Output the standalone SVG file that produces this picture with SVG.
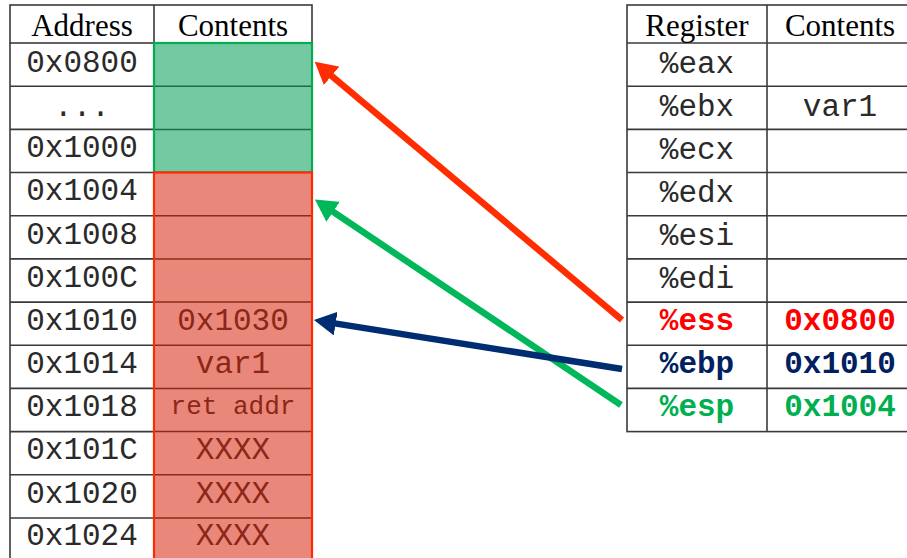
<svg xmlns="http://www.w3.org/2000/svg" width="907" height="558" viewBox="0 0 907 558">
<style>
.grid{stroke:#3a3a3a;stroke-width:1.6;fill:none}
.hdr{font-family:"Liberation Serif","Times New Roman",serif;font-size:31px;fill:#000;text-anchor:middle}
.mono{font-family:"Liberation Mono","Courier New",monospace;font-size:31px;fill:#2a2a2a;text-anchor:middle}
.memtxt{font-family:"Liberation Mono","Courier New",monospace;font-size:31px;fill:#8c2616;text-anchor:middle}
.bold{font-weight:bold}
.gline{stroke:#1f6b45;stroke-width:1.5}
.rline{stroke:#8e2a1c;stroke-width:1.5}
.arrow{stroke-width:6.5;fill:none;stroke-linecap:butt}
</style>
<defs>
<marker id="hRed" markerUnits="userSpaceOnUse" markerWidth="22" markerHeight="24" viewBox="0 0 22 24" refX="1" refY="12" orient="auto"><path d="M0,0 L22,12 L0,24 z" fill="#ff2d00"/></marker>
<marker id="hGreen" markerUnits="userSpaceOnUse" markerWidth="22" markerHeight="24" viewBox="0 0 22 24" refX="1" refY="12" orient="auto"><path d="M0,0 L22,12 L0,24 z" fill="#00b85a"/></marker>
<marker id="hNavy" markerUnits="userSpaceOnUse" markerWidth="22" markerHeight="24" viewBox="0 0 22 24" refX="1" refY="12" orient="auto"><path d="M0,0 L22,12 L0,24 z" fill="#002d72"/></marker>
</defs>
<rect width="907" height="558" fill="#fff"/>

<!-- Memory table -->
<g id="memory-table">
  <g id="mem-header">
    <rect class="grid" x="10" y="5" width="302" height="38"/>
    <line class="grid" x1="154" y1="5" x2="154" y2="43"/>
    <text class="hdr" x="82" y="36">Address</text>
    <text class="hdr" x="233" y="36">Contents</text>
  </g>
  <line class="grid" x1="10" y1="43" x2="10" y2="560"/>
  <line class="grid" x1="154" y1="43" x2="154" y2="560"/>
  <line class="grid" x1="312" y1="43" x2="312" y2="560"/>
  <g id="addr-lines" class="grid">
    <line x1="10" y1="86.2" x2="154" y2="86.2"/>
    <line x1="10" y1="129.4" x2="154" y2="129.4"/>
    <line x1="10" y1="172.5" x2="154" y2="172.5"/>
    <line x1="10" y1="215.7" x2="154" y2="215.7"/>
    <line x1="10" y1="258.9" x2="154" y2="258.9"/>
    <line x1="10" y1="302.1" x2="154" y2="302.1"/>
    <line x1="10" y1="345.3" x2="154" y2="345.3"/>
    <line x1="10" y1="388.4" x2="154" y2="388.4"/>
    <line x1="10" y1="431.6" x2="154" y2="431.6"/>
    <line x1="10" y1="474.8" x2="154" y2="474.8"/>
    <line x1="10" y1="518" x2="154" y2="518"/>
  </g>
  <g id="green-region">
    <rect x="154" y="43" width="158" height="129.5" fill="#74c8a2"/>
    <line class="gline" x1="155" y1="86.2" x2="311" y2="86.2"/>
    <line class="gline" x1="155" y1="129.4" x2="311" y2="129.4"/>
    <rect x="154" y="43" width="158" height="129.5" fill="none" stroke="#00b050" stroke-width="2.2"/>
  </g>
  <g id="red-region">
    <rect x="154" y="172.5" width="158" height="390" fill="#e9877a"/>
    <line class="rline" x1="155" y1="215.7" x2="311" y2="215.7"/>
    <line class="rline" x1="155" y1="258.9" x2="311" y2="258.9"/>
    <line class="rline" x1="155" y1="302.1" x2="311" y2="302.1"/>
    <line class="rline" x1="155" y1="345.3" x2="311" y2="345.3"/>
    <line class="rline" x1="155" y1="388.4" x2="311" y2="388.4"/>
    <line class="rline" x1="155" y1="431.6" x2="311" y2="431.6"/>
    <line class="rline" x1="155" y1="474.8" x2="311" y2="474.8"/>
    <line class="rline" x1="155" y1="518" x2="311" y2="518"/>
    <rect x="154" y="172.5" width="158" height="390" fill="none" stroke="#ff2a00" stroke-width="2.2"/>
  </g>
  <g id="mem-0800"><text class="mono" x="82" y="72">0x0800</text></g>
  <g id="mem-dots"><text class="mono" x="82" y="116">...</text></g>
  <g id="mem-1000"><text class="mono" x="82" y="157">0x1000</text></g>
  <g id="mem-1004"><text class="mono" x="82" y="200">0x1004</text></g>
  <g id="mem-1008"><text class="mono" x="82" y="244">0x1008</text></g>
  <g id="mem-100C"><text class="mono" x="82" y="287">0x100C</text></g>
  <g id="mem-1010"><text class="mono" x="82" y="330">0x1010</text><text class="memtxt" x="233" y="330">0x1030</text></g>
  <g id="mem-1014"><text class="mono" x="82" y="373">0x1014</text><text class="memtxt" x="233" y="373">var1</text></g>
  <g id="mem-1018"><text class="mono" x="82" y="416">0x1018</text><text class="memtxt" x="233" y="414" style="font-size:26px">ret addr</text></g>
  <g id="mem-101C"><text class="mono" x="82" y="459">0x101C</text><text class="memtxt" x="233" y="459">XXXX</text></g>
  <g id="mem-1020"><text class="mono" x="82" y="503">0x1020</text><text class="memtxt" x="233" y="503">XXXX</text></g>
  <g id="mem-1024"><text class="mono" x="82" y="545">0x1024</text><text class="memtxt" x="233" y="545">XXXX</text></g>
</g>

<!-- Register table -->
<g id="register-table">
  <rect class="grid" x="627" y="5" width="290" height="426.6"/>
  <line class="grid" x1="767" y1="5" x2="767" y2="431.6"/>
  <g class="grid">
    <line x1="627" y1="43" x2="913" y2="43"/>
    <line x1="627" y1="86.2" x2="913" y2="86.2"/>
    <line x1="627" y1="129.4" x2="913" y2="129.4"/>
    <line x1="627" y1="172.5" x2="913" y2="172.5"/>
    <line x1="627" y1="215.7" x2="913" y2="215.7"/>
    <line x1="627" y1="258.9" x2="913" y2="258.9"/>
    <line x1="627" y1="302.1" x2="913" y2="302.1"/>
    <line x1="627" y1="345.3" x2="913" y2="345.3"/>
    <line x1="627" y1="388.4" x2="913" y2="388.4"/>
  </g>
  <g id="reg-header">
    <text class="hdr" x="697" y="36">Register</text>
    <text class="hdr" x="840" y="36">Contents</text>
  </g>
  <g id="reg-eax"><text class="mono" x="697" y="73">%eax</text></g>
  <g id="reg-ebx"><text class="mono" x="697" y="116">%ebx</text><text class="mono" x="840" y="116">var1</text></g>
  <g id="reg-ecx"><text class="mono" x="697" y="159">%ecx</text></g>
  <g id="reg-edx"><text class="mono" x="697" y="202">%edx</text></g>
  <g id="reg-esi"><text class="mono" x="697" y="245">%esi</text></g>
  <g id="reg-edi"><text class="mono" x="697" y="288">%edi</text></g>
  <g id="reg-ess"><text class="mono bold" x="697" y="330" style="fill:#ff0000">%ess</text><text class="mono bold" x="840" y="330" style="fill:#ff0000">0x0800</text></g>
  <g id="reg-ebp"><text class="mono bold" x="697" y="373" style="fill:#002060">%ebp</text><text class="mono bold" x="840" y="373" style="fill:#002060">0x1010</text></g>
  <g id="reg-esp"><text class="mono bold" x="697" y="416" style="fill:#00b050">%esp</text><text class="mono bold" x="840" y="416" style="fill:#00b050">0x1004</text></g>
</g>

<!-- Connectors -->
<g id="connectors">
  <line class="arrow" x1="622" y1="320" x2="330.8" y2="75.2" stroke="#ff2d00" marker-end="url(#hRed)"/>
  <line class="arrow" x1="621" y1="405" x2="332.3" y2="211.3" stroke="#00b85a" marker-end="url(#hGreen)"/>
  <line class="arrow" x1="622" y1="369" x2="334.7" y2="323.4" stroke="#002d72" marker-end="url(#hNavy)"/>
</g>
</svg>
